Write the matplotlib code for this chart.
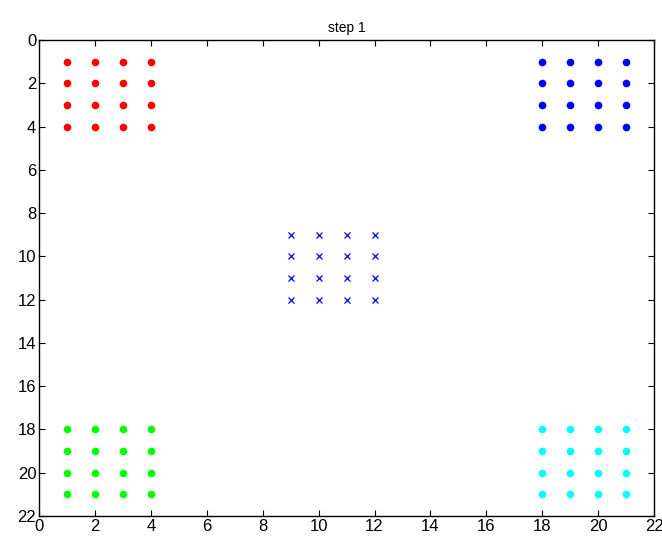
import matplotlib
matplotlib.use("Agg")
import matplotlib.pyplot as plt

plt.rcParams['font.family'] = ['Liberation Sans', 'DejaVu Sans']

# grid coordinates of each cluster
red_x = [1, 2, 3, 4]
red_y = [1, 2, 3, 4]
blue_x = [18, 19, 20, 21]
blue_y = [1, 2, 3, 4]
green_x = [1, 2, 3, 4]
green_y = [18, 19, 20, 21]
cyan_x = [18, 19, 20, 21]
cyan_y = [18, 19, 20, 21]
center_x = [9, 10, 11, 12]
center_y = [9, 10, 11, 12]


def grid(xs, ys):
    px = [x for y in ys for x in xs]
    py = [y for y in ys for x in xs]
    return px, py


fig = plt.figure(figsize=(6.62, 5.42), dpi=100)
ax = fig.add_axes([0.059, 0.048, 0.929, 0.878])

for xs, ys, c in [(red_x, red_y, "#ff0000"), (blue_x, blue_y, "#0000ff"),
                  (green_x, green_y, "#00ff00"), (cyan_x, cyan_y, "#00ffff")]:
    px, py = grid(xs, ys)
    ax.plot(px, py, "o", color=c, markersize=5.5, markeredgewidth=0)

px, py = grid(center_x, center_y)
ax.plot(px, py, "x", color="#0000ff", markersize=5, markeredgewidth=0.9)

ax.set_xlim(0, 22)
ax.set_ylim(22, 0)
ax.set_xticks(range(0, 23, 2))
ax.set_yticks(range(0, 23, 2))
ax.tick_params(direction="in", length=4, top=True, right=True, labelsize=12, pad=2)
for s in ax.spines.values():
    s.set_linewidth(1.0)
ax.set_title("step 1", fontsize=10, pad=6)

fig.savefig("out.png", dpi=100)
